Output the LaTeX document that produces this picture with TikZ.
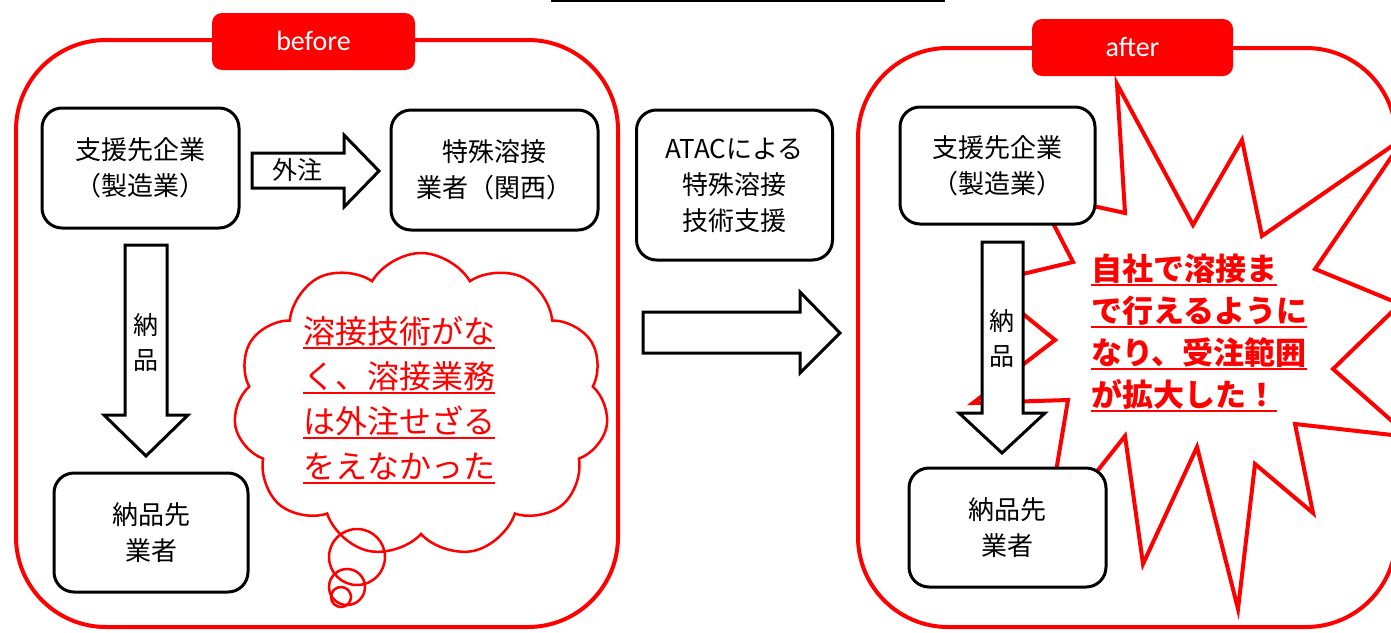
\documentclass[tikz,border=0pt]{standalone}
\usepackage{fontspec}
\setmainfont{Noto Sans CJK JP}
\newfontfamily\latinf{Carlito}
\usetikzlibrary{shapes.symbols}
\definecolor{myred}{RGB}{255,0,0}
\newcommand\redul[1]{\setbox0=\hbox{#1}\rlap{\rule[-6pt]{\wd0}{1.8pt}}\box0}
\tikzset{
  frame/.style={draw=myred, line width=4pt, rounded corners=90pt},
  tab/.style={fill=myred, rounded corners=10pt, inner sep=0pt},
  tabtext/.style={text=white, font=\latinf\fontsize{28}{30}\selectfont, inner sep=0pt},
  box/.style={draw=black, line width=3pt, rounded corners=20pt, fill=white,
    align=center, inner sep=0pt, font=\fontsize{26}{36}\selectfont},
  blockarrow/.style={draw=black, line width=3pt, fill=white, line join=miter},
  arrowtext/.style={font=\fontsize{25}{35}\selectfont, inner sep=0pt, align=center},
  redtext/.style={text=myred, align=left, inner sep=0pt},
  burst/.style={draw=myred, line width=4pt, line join=miter, miter limit=30},
  cloudline/.style={draw=myred, line width=2.5pt},
}
\begin{document}
\begin{tikzpicture}[x=1pt,y=-1pt]
\useasboundingbox (0,0) rectangle (1391,632);
\clip (0,0) rectangle (1391,632);
\fill[white] (0,0) rectangle (1391,632);
% title underline at top
\coordinate (tl) at (551,1);
\coordinate (tr) at (945,1);
\draw[line width=2pt] (tl) -- (tr);

% ---------- before panel ----------
\draw[frame] (16,40) rectangle (618,627);
\fill[tab] (212,13) rectangle (415,70);
\node[tabtext] (beforelbl) at (313.5,41) {before};

% cloud
\node[cloud, cloud puffs=11, cloud puff arc=120, cloud ignores aspect, cloudline, fill=white,
      minimum width=375pt, minimum height=304pt] (cloud) at (421,405) {};
\node[cloudline, circle, minimum size=56pt, inner sep=0pt] (bub1) at (357,557) {};
\node[cloudline, circle, minimum size=36pt, inner sep=0pt] (bub2) at (347,587) {};
\node[cloudline, circle, minimum size=20pt, inner sep=0pt] (bub3) at (341,597) {};
\node[redtext, anchor=west, font=\fontsize{32}{45}\selectfont] (cloudtext) at (303,400)
  {\redul{溶接技術がな}\\\redul{く、溶接業務}\\\redul{は外注せざる}\\\redul{をえなかった}};

% boxes
\node[box, minimum width=197pt, minimum height=120pt] (b1) at (140.5,168) {支援先企業\\（製造業）};
\node[box, minimum width=207pt, minimum height=120pt] (b2) at (494.5,170) {特殊溶接\\業者（関西）};
\node[box, minimum width=194pt, minimum height=119pt] (b3) at (151,532.5) {納品先\\業者};

% outsourcing arrow
\draw[blockarrow] (252,153) -- (344,153) -- (344,135) -- (379,171) -- (344,207) -- (344,188) -- (252,188) -- cycle;
\node[arrowtext] (gaichu) at (297,170) {外注};
% delivery arrow
\draw[blockarrow] (125,245) -- (167,245) -- (167,415) -- (188,415) -- (146,456) -- (104,415) -- (125,415) -- cycle;
\node[arrowtext] (nohin1) at (146,342) {納\\品};

% ---------- middle ----------
\node[box, minimum width=196pt, minimum height=150pt] (atac) at (734.5,185) {ATACによる\\特殊溶接\\技術支援};
\draw[blockarrow] (643,312) -- (800,312) -- (800,292) -- (840,333) -- (800,373) -- (800,353) -- (643,353) -- cycle;

% ---------- after panel ----------
\draw[frame] (858,48) rectangle (1396,627);
\fill[tab] (1032,19) rectangle (1233,76);
\node[tabtext] (afterlbl) at (1132.5,47) {after};

% starburst
\draw[burst] (1117,84) -- (1193,225) -- (1242,140) -- (1262,236) -- (1405,137)
  -- (1315,269) -- (1400,304) -- (1333,369) -- (1410,437) -- (1295,424)
  -- (1313,513) -- (1255,464) -- (1238,609) -- (1197,447) -- (1143,564)
  -- (1125,436) -- (1045,537) -- (1068,400) -- (973,403) -- (1055,340)
  -- (985,283) -- (1073,262) -- (1038,194) -- (1125,213) -- cycle;

\node[box, minimum width=195pt, minimum height=117pt] (a1) at (997.5,165.5) {支援先企業\\（製造業）};
\node[box, minimum width=197pt, minimum height=119pt] (a3) at (1007.5,527.5) {納品先\\業者};
\draw[blockarrow] (982,242) -- (1023,242) -- (1023,413) -- (1045,413) -- (1002,453) -- (959,413) -- (982,413) -- cycle;
\node[arrowtext] (nohin2) at (1002,338) {納\\品};

\node[redtext, anchor=west, font=\bfseries\fontsize{31}{42}\selectfont] (bursttext) at (1091,333)
  {\redul{自社で溶接ま}\\\redul{で行えるように}\\\redul{なり、受注範囲}\\\redul{が拡大した！}};
\end{tikzpicture}
\end{document}
